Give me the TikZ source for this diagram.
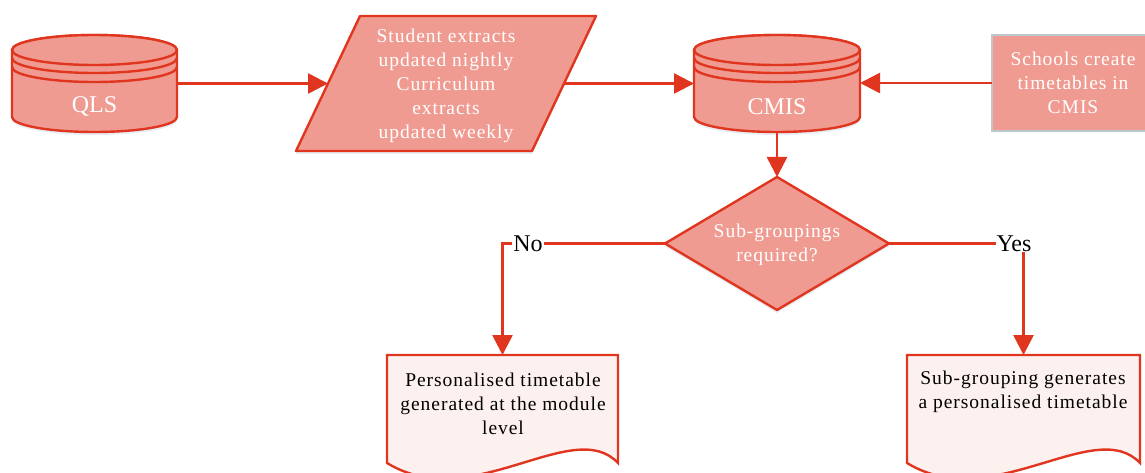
\documentclass[tikz,border=0pt]{standalone}
\usepackage{fontspec}
\setmainfont{Liberation Serif}
\newfontfamily\spacedserif[LetterSpace=5]{Liberation Serif}
\usetikzlibrary{shapes.geometric,arrows.meta,calc,shadows}
\definecolor{salmon}{HTML}{F09B91}
\definecolor{redline}{HTML}{E0361F}
\definecolor{greyedge}{HTML}{BDC8CC}
\definecolor{docpink}{HTML}{FDF1EF}
\definecolor{paleshadow}{HTML}{B9CCE0}
\tikzset{
  x=1pt, y=-1pt,
  every node/.style={inner sep=0pt, outer sep=0pt},
  anchorbox/.style={draw=none, fill=none, rectangle},
  shapeline/.style={draw=redline, line width=2.4pt, fill=salmon, line join=round},
  softshadow/.style={drop shadow={fill=paleshadow, opacity=0.35, shadow xshift=0pt, shadow yshift=-3pt}},
  flow/.style={draw=redline, line width=2.6pt, -{Triangle[length=20pt,width=20pt]}},
  whitetext/.style={text=white, font=\spacedserif\fontsize{19.5}{24}\selectfont, align=center},
  bigtext/.style={text=white, font=\fontsize{24}{28}\selectfont},
  darktext/.style={text=black, font=\spacedserif\fontsize{19.5}{24}\selectfont, align=center},
  branchlabel/.style={text=black, fill=white, font=\fontsize{24}{28}\selectfont, inner xsep=1pt, inner ysep=0pt},
}
% database drum: #1 = node name, #2 = half width
\newcommand{\drumshape}[2]{%
  \path[shapeline, softshadow]
    ($(#1.north west)+(0,15)$) -- ($(#1.south west)+(0,-15)$)
    arc[start angle=180, end angle=0, x radius=#2, y radius=15]
    -- ($(#1.north east)+(0,15)$)
    arc[start angle=0, end angle=-180, x radius=#2, y radius=15] -- cycle;
  \path[shapeline] ($(#1.north)+(0,15)$) ellipse[x radius=#2, y radius=15];
  \draw[redline, line width=2.4pt] ($(#1.north west)+(0,23)$)
    arc[start angle=180, end angle=0, x radius=#2, y radius=15];
  \draw[redline, line width=2.4pt] ($(#1.north west)+(0,32)$)
    arc[start angle=180, end angle=0, x radius=#2, y radius=15];
}
% paper document with a wavy lower edge
\newcommand{\docshape}[1]{%
  \path[draw=redline, line width=2.4pt, fill=docpink]
    (#1.north west) -- (#1.north east) -- ($(#1.north east)+(0,108)$)
    .. controls ($(#1.north east)+(-45,60)$) and ($(#1.north west)+(85,160)$) ..
    ($(#1.north west)+(0,108)$) -- cycle;
}
\begin{document}
\begin{tikzpicture}
\useasboundingbox (0,0) rectangle (1145,473);

% ---- top row ----
\node[anchorbox, minimum width=165, minimum height=97] (qls) at (94.5,83.5) {};
\drumshape{qls}{82.5}
\node[bigtext] at (94.5,107) {QLS};

\node[anchorbox, minimum width=166, minimum height=97] (cmis) at (777,83.5) {};
\drumshape{cmis}{83}
\node[bigtext] at (777,107) {CMIS};

% slanted data block
\node[anchorbox, minimum width=300, minimum height=135] (extracts) at (446,83.5) {};
\path[shapeline, softshadow] ($(extracts.south west)$) -- ($(extracts.north west)+(64,0)$)
  -- (extracts.north east) -- ($(extracts.south east)+(-64,0)$) -- cycle;
\coordinate (extractsin) at ($(extracts.west)+(32,0)$);
\coordinate (extractsout) at ($(extracts.east)+(-32,0)$);
\node[whitetext] at (446,85.5) {Student extracts\\updated nightly\\Curriculum\\extracts\\updated weekly};

\node[rectangle, draw=greyedge, line width=2.4pt, fill=salmon, minimum width=162, minimum height=96,
      whitetext] (schools) at (1073,83) {Schools create\\timetables in\\CMIS};

% ---- decision ----
\node[diamond, shapeline, softshadow, minimum width=224, minimum height=133] (decide) at (777,243.5) {};
\node[whitetext] at (777,245) {Sub-groupings\\required?};

% ---- outcomes ----
\node[anchorbox, minimum width=231, minimum height=120, anchor=north west] (module) at (387,355) {};
\docshape{module}
\node[darktext] at (503,404) {Personalised timetable\\generated at the module\\level};

\node[anchorbox, minimum width=233, minimum height=120, anchor=north west] (subgrp) at (907,355) {};
\docshape{subgrp}
\node[darktext] at (1023,392) {Sub-grouping generates\\a personalised timetable};

% ---- connectors ----
\draw[flow] (qls.east) -- (extractsin);
\draw[flow] (extractsout) -- (cmis.west);
\draw[flow] (schools.west) -- (schools.west -| cmis.east);
\draw[flow] (cmis.south) -- (decide.north);
\draw[flow] (decide.west) -| (module.north);
\draw[flow] (decide.east) -| (subgrp.north);
\node[branchlabel] at (528,244) {No};
\node[branchlabel] at (1014,244) {Yes};
\end{tikzpicture}
\end{document}
